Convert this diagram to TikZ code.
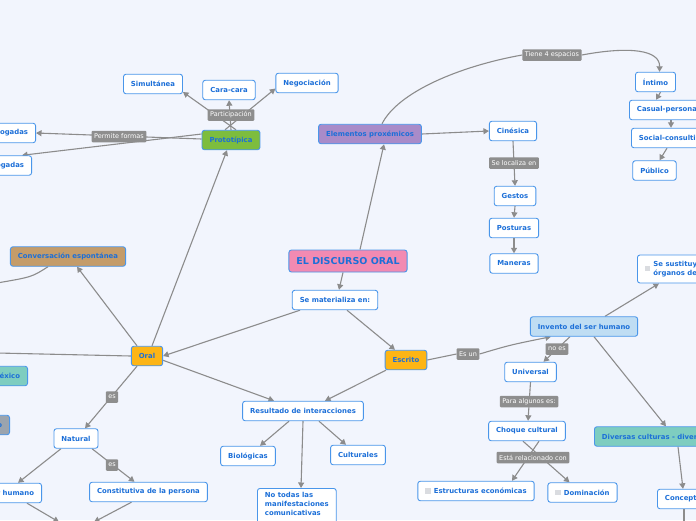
\documentclass[tikz,border=0pt]{standalone}
\usepackage{fontspec}
\setmainfont{DejaVu Sans}
\usetikzlibrary{arrows.meta}
\definecolor{bgc}{HTML}{F2F5FD}
\definecolor{bordc}{HTML}{4A96EA}
\definecolor{txtc}{HTML}{1C6FD8}
\definecolor{edgec}{HTML}{8C8C8C}
\definecolor{labc}{HTML}{8E8E8E}
\definecolor{pinkc}{HTML}{F28AB2}
\definecolor{orangec}{HTML}{FDB515}
\definecolor{greenc}{HTML}{7DBD3E}
\definecolor{purplec}{HTML}{A98BC9}
\definecolor{tanc}{HTML}{C49C6A}
\definecolor{tealc}{HTML}{7ECDC0}
\definecolor{lbluec}{HTML}{BFDDF3}
\definecolor{grayc}{HTML}{9BA4AE}
\definecolor{chkc}{HTML}{DADCE0}
\newcommand\ckbox{{\color{chkc}\rule[-0.3pt]{5.5pt}{5.5pt}}\hspace{3pt}}
\pgfdeclarelayer{back}
\pgfdeclarelayer{edges}
\pgfsetlayers{back,edges,main}
\tikzset{
  nd/.style={draw=bordc, line width=0.9pt, rounded corners=2.5pt, fill=white, text=txtc,
    font=\fontsize{6.9}{9}\selectfont\bfseries, inner xsep=7.5pt, inner ysep=2pt, minimum height=19.5pt},
  lb/.style={fill=labc, text=white, font=\fontsize{6.5}{7.5}\selectfont, inner xsep=2.5pt, inner ysep=1.5pt,
    rounded corners=1pt, minimum height=11.5pt},
  ln/.style={draw=edgec, line width=1.1pt},
  ed/.style={ln, -{Triangle[length=5.5pt,width=6pt]}},
}
\begin{document}
\begin{tikzpicture}[x=1pt,y=-1pt]
\begin{pgfonlayer}{back}
\fill[bgc] (0,0) rectangle (696,520);
\end{pgfonlayer}
\useasboundingbox (0,0) rectangle (696,520);

% main nodes
\node[nd, fill=pinkc, font=\fontsize{9.5}{11}\selectfont\bfseries, minimum height=22pt] (title) at (348,261) {EL DISCURSO ORAL};
\node[nd] (sem) at (335,300) {Se materializa en:};
\node[nd, fill=orangec] (oral) at (147,356) {Oral};
\node[nd, fill=orangec] (esc) at (406,360) {Escrito};
\node[nd, fill=greenc] (prot) at (231,140) {Prototípica};
\node[nd] (sim) at (153,84) {Simultánea};
\node[nd] (cara) at (229,90) {Cara-cara};
\node[nd] (neg) at (307,83) {Negociación};
\node[nd, anchor=east] (mono) at (36,133) {Monologadas};
\node[nd, anchor=east] (dial) at (32,165.5) {Dialogadas};
\node[nd, fill=purplec] (prox) at (370,134) {Elementos proxémicos};
\node[nd] (cin) at (513,131) {Cinésica};
\node[nd] (gest) at (515,196) {Gestos};
\node[nd] (post) at (514,228) {Posturas};
\node[nd] (man) at (514,263.5) {Maneras};
\node[nd] (int) at (655.5,82) {Íntimo};
\node[nd, anchor=west] (cas) at (629,110) {Casual-personal};
\node[nd, anchor=west] (soc) at (631,138) {Social-consultivo};
\node[nd] (pub) at (654.5,170.5) {Público};
\node[nd, fill=tanc] (conv) at (68,256.5) {Conversación espontánea};
\node[nd, fill=tealc, anchor=east] (mex) at (28,376) {México};
\node[nd, fill=grayc, anchor=east] (gry) at (10,425) {Proceso};
\node[nd] (nat) at (76,438.5) {Natural};
\node[nd] (const) at (148.5,492) {Constitutiva de la persona};
\node[nd, anchor=east] (hum) at (42,493) {Ser humano};
\node[nd] (res) at (303,411) {Resultado de interacciones};
\node[nd] (bio) at (248,456) {Biológicas};
\node[nd] (cul) at (358,455) {Culturales};
\node[nd, anchor=north west, align=left, inner ysep=4pt] (nt) at (257,488) {No todas las\\manifestaciones\\comunicativas\\\mbox{}};
\node[nd, fill=lbluec] (inv) at (584,326.5) {Invento del ser humano};
\node[nd, anchor=west, minimum height=28pt] (sust) at (637,269) {\ckbox\begin{tabular}[c]{@{}l@{}}Se sustituyen los\\órganos del\end{tabular}};
\node[nd] (univ) at (530.5,372) {Universal};
\node[nd] (cho) at (527,431) {Choque cultural};
\node[nd] (estr) at (476,491) {\ckbox Estructuras económicas};
\node[nd] (dom) at (582.5,492.5) {\ckbox Dominación};
\node[nd, fill=tealc, anchor=west] (div) at (594,436.5) {Diversas culturas - diversidad};
\node[nd, anchor=west] (conc) at (657,499) {Conceptos};

% labels
\node[lb] (part) at (231,115) {Participación};
\node[lb] (perm) at (119,136.5) {Permite formas};
\node[lb] (t4) at (552,55) {Tiene 4 espacios};
\node[lb] (loc) at (514,163) {Se localiza en};
\node[lb] (es1) at (112,397) {es};
\node[lb] (es2) at (112,465) {es};
\node[lb] (esun) at (468,354) {Es un};
\node[lb] (noes) at (557,349) {no es};
\node[lb] (para) at (529,401.5) {Para algunos es:};
\node[lb] (rel) at (533,457.5) {Está relacionado con};

% free ends
\coordinate (cl) at (-3,283);
\coordinate (ol) at (-3,353);
\coordinate (c1) at (59,522);
\coordinate (c2) at (94,522);
\coordinate (c3) at (684,525);

\begin{pgfonlayer}{edges}
\draw[ed] ([xshift=-5pt]title.south) -- ([xshift=4pt]sem.north);
\draw[ed] ([xshift=12pt]title.north) -- ([xshift=14pt]prox.south);
\draw[ed] ([xshift=-35pt]sem.south) -- (oral.east);
\draw[ed] ([xshift=12pt]sem.south) -- ([xshift=-11pt]esc.north);
\draw[ed] ([xshift=-10pt]oral.north) -- ([xshift=9pt]conv.south);
\draw[ed] ([xshift=5pt]oral.north) -- ([xshift=-4pt]prot.south);
\draw[ed] ([xshift=-10pt]oral.south) -- ([xshift=9pt]nat.north);
\draw[ed] (oral.-15) -- ([xshift=-29pt]res.north);
\draw[ln] (oral.west) -- (ol);
\draw[ln] ([xshift=-20pt]conv.south) .. controls (32,277) .. (cl);
% prototipica
\draw[ed] ([xshift=5pt]prot.north) -- (sim.345);
\draw[ed] (prot.north) -- (cara.south);
\draw[ed] ([xshift=-6pt]prot.north) -- (neg.190);
\draw[ed] ([yshift=1pt]prot.west) -- (mono.east);
\draw[ed] ([yshift=6pt]prot.west) -- ([xshift=-10pt]dial.north east);
% proxemicos
\draw[ed] (prox.east) -- (cin.west);
\draw[ln] ([xshift=12pt]prox.north) .. controls (398,92) and (460,66) .. (t4.west);
\draw[ed] (t4.east) .. controls (630,46) and (660,50) .. ([xshift=4pt]int.north);
\draw[ed] (cin.south) -- (gest.north);
\draw[ed] (gest.south) -- (post.north);
\draw[ed] (post.south) -- (man.north);
\draw[ed] ([xshift=5pt]int.south) -- ([xshift=27pt]cas.north west);
\draw[ed] ([xshift=42pt]cas.south west) -- ([xshift=40pt]soc.north west);
\draw[ed] ([xshift=36pt]soc.south west) -- ([xshift=5pt]pub.north);
% natural
\draw[ed] ([xshift=16pt]nat.south) -- ([xshift=-14pt]const.north);
\draw[ed] ([xshift=-15pt]nat.south) -- ([xshift=-24pt]hum.north east);
\draw[ed] ([xshift=-15pt]hum.south east) -- (c1);
\draw[ed] ([xshift=-17pt]const.south) -- (c2);
% resultado
\draw[ed] ([xshift=-20pt]esc.south) -- ([xshift=22pt]res.north);
\draw[ed] ([xshift=-14pt]res.south) -- ([xshift=12pt]bio.north);
\draw[ed] ([xshift=16pt]res.south) -- ([xshift=-12pt]cul.north);
\draw[ed] (res.south) -- ([xshift=44pt]nt.north west);
% escrito
\draw[ln] (esc.east) -- (esun.west);
\draw[ed] (esun.east) .. controls (510,345) .. ([xshift=21pt]inv.south west);
\draw[ed] ([xshift=21pt]inv.north) -- ([xshift=22pt]sust.south west);
\draw[ed] ([xshift=-14pt]inv.south) -- ([xshift=13pt]univ.north);
\draw[ed] (univ.south) -- ([xshift=1pt]cho.north);
\draw[ed] ([xshift=12pt]cho.south) -- ([xshift=36pt]estr.north);
\draw[ed] ([xshift=-4pt]cho.south) -- ([xshift=-13pt]dom.north);
\draw[ed] ([xshift=10pt]inv.south) -- ([xshift=72pt]div.north west);
\draw[ed] ([xshift=84pt]div.south west) -- ([xshift=26pt]conc.north west);
\draw[ln] ([xshift=27pt]conc.south west) -- (c3);
\end{pgfonlayer}
\end{tikzpicture}
\end{document}
